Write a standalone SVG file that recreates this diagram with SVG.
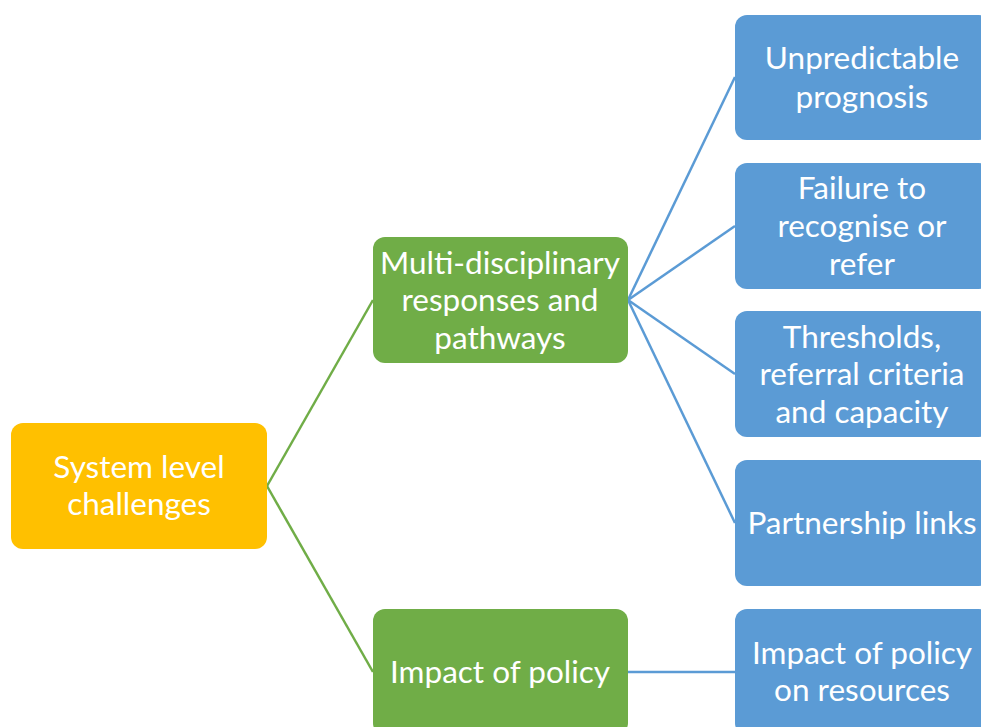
<svg xmlns="http://www.w3.org/2000/svg" width="981" height="727" viewBox="0 0 981 727">
<style>
.t{font-family:Lato,"Open Sans","Liberation Sans",sans-serif;font-size:31.5px;fill:#fff;text-anchor:middle}
.y{fill:#FFC000}
.g{fill:#70AD47}
.b{fill:#5B9BD5}
.cg{stroke:#70AD47;stroke-width:2.5;fill:none}
.cb{stroke:#5B9BD5;stroke-width:2.5;fill:none}
</style>
<rect width="981" height="727" fill="#fff"/>
<g id="connectors">
<path class="cg" d="M267,486 L373,300"/>
<path class="cg" d="M267,486 L373,672"/>
<path class="cb" d="M628,300 L735,77"/>
<path class="cb" d="M628,300 L735,226"/>
<path class="cb" d="M628,300 L735,374"/>
<path class="cb" d="M628,300 L735,523"/>
<path class="cb" d="M628,672 L735,672"/>
</g>
<g id="system">
<rect class="y" x="11" y="423" width="256" height="126" rx="12"/>
<text class="t" x="139" y="478">System level</text>
<text class="t" x="139" y="515">challenges</text>
</g>
<g id="multi">
<rect class="g" x="373" y="237" width="255" height="126" rx="12"/>
<text class="t" x="500" y="274">Multi-disciplinary</text>
<text class="t" x="500" y="311">responses and</text>
<text class="t" x="500" y="349">pathways</text>
</g>
<g id="policy">
<rect class="g" x="373" y="609" width="255" height="126" rx="12"/>
<text class="t" x="500" y="683">Impact of policy</text>
</g>
<g id="unpredictable">
<rect class="b" x="735" y="15" width="256" height="125" rx="12"/>
<text class="t" x="862" y="69">Unpredictable</text>
<text class="t" x="862" y="108">prognosis</text>
</g>
<g id="failure">
<rect class="b" x="735" y="163" width="256" height="126" rx="12"/>
<text class="t" x="862" y="199">Failure to</text>
<text class="t" x="862" y="237">recognise or</text>
<text class="t" x="862" y="275">refer</text>
</g>
<g id="thresholds">
<rect class="b" x="735" y="311" width="256" height="126" rx="12"/>
<text class="t" x="862" y="348">Thresholds,</text>
<text class="t" x="862" y="385">referral criteria</text>
<text class="t" x="862" y="423">and capacity</text>
</g>
<g id="partnership">
<rect class="b" x="735" y="460" width="256" height="126" rx="12"/>
<text class="t" x="862" y="534">Partnership links</text>
</g>
<g id="resources">
<rect class="b" x="735" y="609" width="256" height="126" rx="12"/>
<text class="t" x="862" y="664">Impact of policy</text>
<text class="t" x="862" y="701">on resources</text>
</g>
</svg>
